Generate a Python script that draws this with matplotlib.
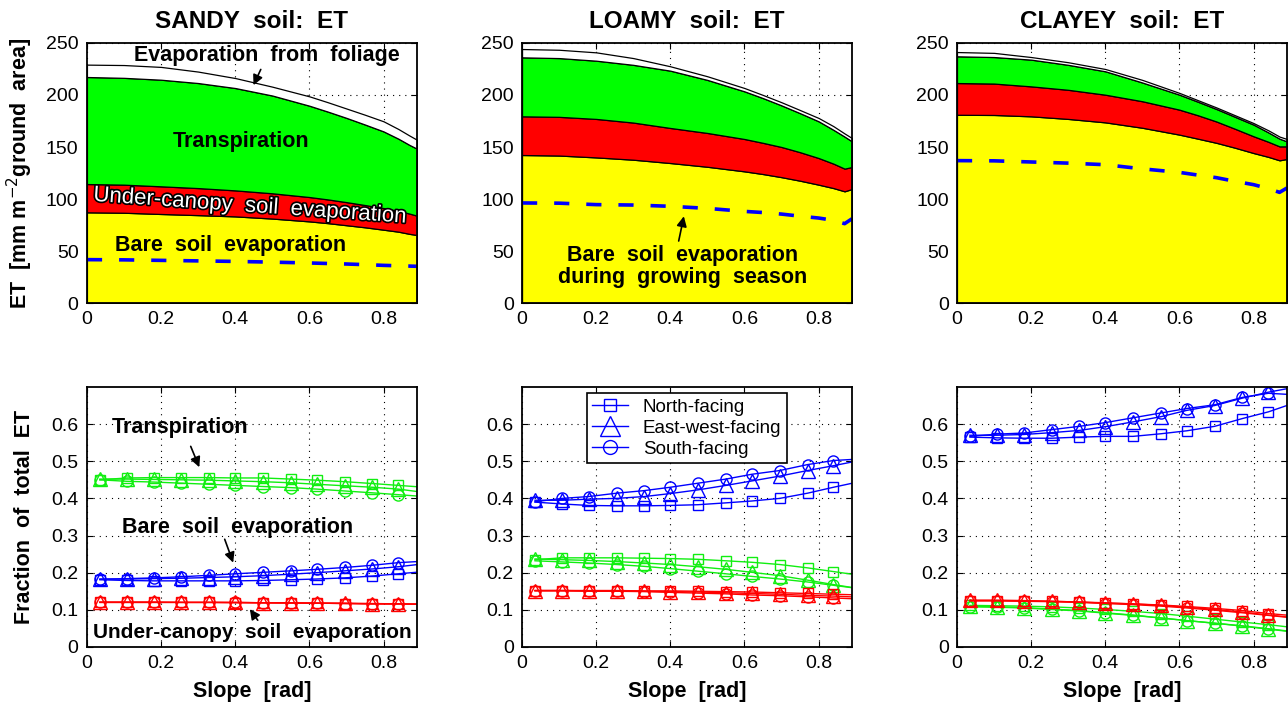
"""
ET partitioning vs. slope for three soil textures
"""
import numpy as np
import matplotlib
matplotlib.use('Agg')
import matplotlib.pyplot as plt
import matplotlib.patheffects as pe

plt.rcParams['font.family'] = ['Liberation Sans', 'DejaVu Sans']
plt.rcParams['axes.unicode_minus'] = False

# ---- upper row: stacked ET components (cumulative layer tops, mm) ----
slope_top = [0, 0.1, 0.2, 0.3, 0.4, 0.5, 0.6, 0.65, 0.7, 0.75, 0.8, 0.84, 0.87, 0.89]

sandy_bare = [87.2, 86.8, 85.6, 84.5, 83.3, 81.2, 78.5, 76.8, 74.8, 72.8, 70.5, 68.6, 66.5, 65.4]
sandy_under = [114.4, 113.8, 112.2, 110.5, 108.3, 105.5, 101.9, 99.6, 97.0, 94.2, 91.3, 88.6, 86.0, 84.0]
sandy_transp = [217.3, 216.5, 214.7, 211.5, 206.7, 199.5, 189.7, 184.0, 178.0, 171.6, 165.0, 158.0, 152.0, 148.4]
sandy_foliage = [229.2, 228.8, 227.0, 222.5, 216.3, 208.0, 198.7, 193.0, 187.0, 181.0, 174.7, 167.3, 161.0, 157.0]
sandy_grow = [41.7, 41.5, 41.0, 40.5, 40.0, 39.3, 38.5, 38.0, 37.5, 36.9, 36.2, 35.8, 35.5, 35.3]

loamy_bare = [142.3, 141.8, 140.0, 137.8, 134.6, 131.0, 126.6, 124.0, 121.0, 117.6, 113.8, 110.5, 107.4, 109.6]
loamy_under = [179.5, 179.0, 177.0, 173.5, 168.3, 163.5, 157.7, 154.0, 150.0, 145.0, 139.4, 134.0, 129.2, 130.8]
loamy_transp = [236.2, 235.5, 233.0, 229.0, 223.4, 214.5, 203.5, 197.0, 190.0, 182.5, 174.7, 166.5, 160.0, 155.4]
loamy_foliage = [244.2, 243.5, 241.0, 235.5, 227.6, 218.0, 206.7, 200.0, 193.0, 185.5, 177.9, 170.0, 163.0, 158.6]
loamy_grow = [96.2, 96.0, 94.6, 94.2, 93.0, 91.0, 88.1, 87.0, 85.5, 83.5, 81.7, 79.5, 76.3, 81.0]

clayey_bare = [181.0, 180.8, 179.5, 177.0, 173.7, 168.5, 161.9, 158.0, 154.0, 149.3, 144.2, 140.5, 137.2, 138.5]
clayey_under = [211.5, 211.0, 208.3, 205.0, 200.3, 194.0, 185.9, 180.5, 174.5, 167.5, 160.3, 155.0, 150.6, 150.6]
clayey_transp = [237.2, 236.5, 234.0, 229.0, 222.8, 212.0, 200.3, 193.5, 186.5, 179.0, 171.5, 164.0, 158.0, 155.4]
clayey_foliage = [241.3, 240.5, 236.5, 231.5, 225.0, 214.5, 202.0, 195.0, 188.0, 180.5, 173.0, 166.0, 160.0, 157.7]
clayey_grow = [136.9, 136.7, 135.6, 134.5, 133.0, 129.0, 125.6, 123.0, 120.5, 117.0, 113.8, 110.0, 106.4, 110.6]

# ---- lower row: fraction of total ET by aspect ----
slope_bot = [0.035, 0.108, 0.18, 0.255, 0.33, 0.40, 0.475, 0.55, 0.62, 0.695, 0.77, 0.84, 0.91]
aspects = ['North-facing', 'East-west-facing', 'South-facing']

sandy_frac = {
    'transp': [[0.450, 0.455, 0.456, 0.456, 0.456, 0.455, 0.455, 0.452, 0.449, 0.445, 0.440, 0.435, 0.430],
               [0.452, 0.452, 0.451, 0.450, 0.449, 0.447, 0.445, 0.442, 0.438, 0.434, 0.430, 0.425, 0.416],
               [0.450, 0.446, 0.444, 0.441, 0.438, 0.435, 0.432, 0.429, 0.425, 0.420, 0.415, 0.410, 0.405]],
    'bare':   [[0.181, 0.179, 0.178, 0.178, 0.178, 0.178, 0.179, 0.181, 0.183, 0.186, 0.191, 0.197, 0.203],
               [0.183, 0.183, 0.184, 0.185, 0.187, 0.189, 0.192, 0.196, 0.200, 0.205, 0.210, 0.216, 0.224],
               [0.182, 0.184, 0.186, 0.189, 0.193, 0.197, 0.201, 0.205, 0.209, 0.214, 0.220, 0.227, 0.231]],
    'under':  [[0.120, 0.120, 0.120, 0.120, 0.120, 0.119, 0.119, 0.118, 0.118, 0.117, 0.116, 0.116, 0.115],
               [0.121, 0.121, 0.121, 0.120, 0.120, 0.120, 0.119, 0.119, 0.118, 0.118, 0.117, 0.116, 0.115],
               [0.120, 0.120, 0.120, 0.120, 0.120, 0.120, 0.119, 0.119, 0.118, 0.117, 0.116, 0.116, 0.115]],
}
loamy_frac = {
    'transp': [[0.235, 0.240, 0.240, 0.240, 0.239, 0.238, 0.236, 0.232, 0.228, 0.222, 0.213, 0.203, 0.193],
               [0.237, 0.235, 0.233, 0.230, 0.226, 0.222, 0.216, 0.209, 0.201, 0.192, 0.180, 0.168, 0.157],
               [0.232, 0.229, 0.226, 0.222, 0.217, 0.211, 0.204, 0.197, 0.190, 0.183, 0.175, 0.166, 0.157]],
    'bare':   [[0.390, 0.385, 0.381, 0.380, 0.380, 0.381, 0.383, 0.388, 0.393, 0.400, 0.414, 0.430, 0.445],
               [0.395, 0.395, 0.398, 0.400, 0.405, 0.413, 0.423, 0.435, 0.447, 0.460, 0.475, 0.488, 0.502],
               [0.391, 0.400, 0.405, 0.414, 0.421, 0.430, 0.441, 0.452, 0.465, 0.475, 0.491, 0.502, 0.506]],
    'under':  [[0.152, 0.152, 0.152, 0.152, 0.151, 0.151, 0.150, 0.149, 0.148, 0.146, 0.144, 0.142, 0.140],
               [0.152, 0.152, 0.151, 0.151, 0.150, 0.149, 0.148, 0.146, 0.144, 0.142, 0.139, 0.137, 0.134],
               [0.151, 0.151, 0.150, 0.150, 0.149, 0.147, 0.145, 0.143, 0.140, 0.138, 0.135, 0.132, 0.129]],
}
clayey_frac = {
    'transp': [[0.112, 0.111, 0.110, 0.108, 0.105, 0.101, 0.096, 0.090, 0.083, 0.075, 0.067, 0.060, 0.052],
               [0.110, 0.108, 0.106, 0.102, 0.098, 0.092, 0.086, 0.078, 0.071, 0.064, 0.056, 0.048, 0.040],
               [0.108, 0.107, 0.105, 0.101, 0.097, 0.091, 0.085, 0.078, 0.071, 0.064, 0.057, 0.049, 0.041]],
    'bare':   [[0.565, 0.563, 0.562, 0.562, 0.565, 0.567, 0.567, 0.574, 0.582, 0.594, 0.615, 0.633, 0.657],
               [0.570, 0.570, 0.572, 0.577, 0.583, 0.593, 0.606, 0.620, 0.637, 0.650, 0.670, 0.686, 0.699],
               [0.567, 0.573, 0.576, 0.585, 0.594, 0.604, 0.617, 0.630, 0.642, 0.652, 0.672, 0.683, 0.679]],
    'under':  [[0.125, 0.125, 0.124, 0.123, 0.121, 0.118, 0.116, 0.113, 0.109, 0.104, 0.098, 0.090, 0.084],
               [0.126, 0.126, 0.125, 0.123, 0.121, 0.119, 0.116, 0.112, 0.107, 0.101, 0.094, 0.086, 0.079],
               [0.124, 0.124, 0.123, 0.122, 0.120, 0.117, 0.114, 0.110, 0.105, 0.099, 0.092, 0.085, 0.078]],
}

soils = ['SANDY', 'LOAMY', 'CLAYEY']
stacks = [
    (sandy_bare, sandy_under, sandy_transp, sandy_foliage, sandy_grow),
    (loamy_bare, loamy_under, loamy_transp, loamy_foliage, loamy_grow),
    (clayey_bare, clayey_under, clayey_transp, clayey_foliage, clayey_grow),
]
fracs = [sandy_frac, loamy_frac, clayey_frac]

GREEN = '#00ff00'
line_colors = {'transp': '#11ee11', 'bare': '#0000ff', 'under': '#ff0000'}
markers = [('s', 6.5), ('^', 9.5), ('o', 8)]

fig = plt.figure(figsize=(12.88, 7.06), dpi=100)
lefts = [0.0675, 0.4053, 0.743]
w, h = 0.2562, 0.3683


def style_axes(ax):
    ax.set_axisbelow(True)
    ax.grid(True, linestyle=(0, (1, 4.5)), color='black', linewidth=0.8)
    ax.tick_params(direction='in', top=True, right=True, length=4,
                   labelsize=14, pad=6)
    for s in ax.spines.values():
        s.set_linewidth(1.3)
    ax.set_xlim(0, 0.89)
    ax.set_xticks([0, 0.2, 0.4, 0.6, 0.8])
    ax.set_xticklabels(['0', '0.2', '0.4', '0.6', '0.8'])


bold = dict(fontsize=15.5, fontweight='bold')
arrow = dict(arrowstyle='-|>', color='black', lw=1.2, mutation_scale=15)

for i in range(3):
    # upper panel: stacked areas
    ax = fig.add_axes([lefts[i], 0.5708, w, h])
    bare, under, transp, foliage, grow = [np.array(v) for v in stacks[i]]
    x = np.array(slope_top)
    ax.fill_between(x, 0, bare, facecolor='yellow', edgecolor='black', lw=0.9)
    ax.fill_between(x, bare, under, facecolor='red', edgecolor='black', lw=0.9)
    ax.fill_between(x, under, transp, facecolor=GREEN, edgecolor='black', lw=0.9)
    ax.fill_between(x, transp, foliage, facecolor='white', edgecolor='black', lw=0.9)
    ax.plot(x, grow, color='blue', lw=2.6, dashes=(4.2, 4.7))
    style_axes(ax)
    ax.set_ylim(0, 250)
    ax.set_yticks([0, 50, 100, 150, 200, 250])
    ax.set_title(soils[i] + '  soil:  ET', fontsize=17.5, fontweight='bold', pad=11)
    if i == 0:
        ax.set_ylabel('ET  [mm m$^{-2}$ground  area]', labelpad=8, **bold)
        ax.text(0.486, 238, 'Evaporation  from  foliage', ha='center', va='center', **bold)
        ax.annotate('', xy=(0.446, 207), xytext=(0.472, 227), arrowprops=arrow)
        ax.text(0.415, 155, 'Transpiration', ha='center', va='center', **bold)
        ax.text(0.44, 93, 'Under-canopy  soil  evaporation', ha='center', va='center',
                fontsize=16, color='white', rotation=-4.0, rotation_mode='anchor',
                path_effects=[pe.withStroke(linewidth=2.4, foreground='black')])
        ax.text(0.388, 55, 'Bare  soil  evaporation', ha='center', va='center', **bold)
    if i == 1:
        ax.text(0.434, 35, 'Bare  soil  evaporation\nduring  growing  season',
                ha='center', va='center', linespacing=1.1, **bold)
        ax.annotate('', xy=(0.438, 86), xytext=(0.421, 57), arrowprops=arrow)

    # lower panel: fractions by aspect
    ax = fig.add_axes([lefts[i], 0.0836, w, h])
    handles = []
    for comp in ['transp', 'bare', 'under']:
        for j, (m, ms) in enumerate(markers):
            ln, = ax.plot(slope_bot, fracs[i][comp][j], color=line_colors[comp],
                          marker=m, ms=ms, mfc='none', mew=1.0, lw=1.0,
                          markevery=slice(0, 12))
            if comp == 'bare':
                handles.append(ln)
    style_axes(ax)
    ax.set_ylim(0, 0.7)
    ax.set_yticks([0, 0.1, 0.2, 0.3, 0.4, 0.5, 0.6])
    ax.set_yticklabels(['0', '0.1', '0.2', '0.3', '0.4', '0.5', '0.6'])
    ax.set_xlabel('Slope  [rad]', labelpad=6, **bold)
    if i == 0:
        ax.set_ylabel('Fraction  of  total  ET', labelpad=12, **bold)
        ax.text(0.25, 0.59, 'Transpiration', ha='center', va='center', **bold)
        ax.annotate('', xy=(0.306, 0.477), xytext=(0.277, 0.547), arrowprops=arrow)
        ax.text(0.405, 0.322, 'Bare  soil  evaporation', ha='center', va='center', **bold)
        ax.annotate('', xy=(0.397, 0.22), xytext=(0.369, 0.297), arrowprops=arrow)
        ax.text(0.446, 0.04, 'Under-canopy  soil  evaporation', ha='center', va='center',
                fontsize=15, fontweight='bold')
        ax.annotate('', xy=(0.435, 0.108), xytext=(0.465, 0.066), arrowprops=arrow)
    if i == 1:
        leg = ax.legend(handles, aspects, loc='upper left', bbox_to_anchor=(0.167, 1.012),
                        fontsize=13.5, frameon=True, fancybox=False, edgecolor='black',
                        framealpha=1, handlelength=1.9, borderpad=0.3, labelspacing=0.2,
                        handletextpad=0.8)
        leg.get_frame().set_linewidth(1.2)
        for hnd, size in zip(leg.legend_handles, [8, 15, 10]):
            hnd.set_markersize(size)

plt.savefig('out.png', dpi=100)
print('Saved: out.png')
